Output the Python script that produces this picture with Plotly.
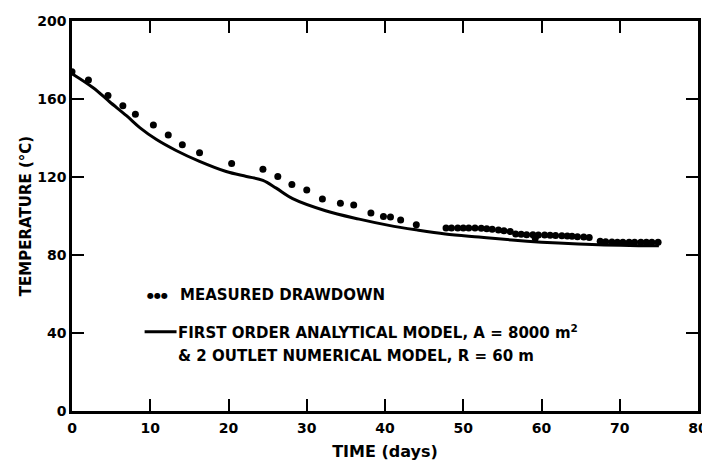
import plotly.graph_objects as go

# Measured drawdown (days, degC)
meas_days = [0, 2.1, 4.6, 6.5, 8.1, 10.4, 12.3, 14.1, 16.3, 20.4, 24.4, 26.3, 28.1,
             30.0, 32.0, 34.3, 36.0, 38.2, 39.8, 40.7, 42.0, 44.0,
             47.8, 48.5, 49.3, 50.0, 50.7, 51.5, 52.3, 53.0, 53.7, 54.5, 55.2, 56.0,
             56.7, 57.4, 58.1, 58.9, 59.2, 59.6, 60.4, 61.1, 61.8, 62.6, 63.3, 63.9,
             64.6, 65.4, 66.1,
             67.5, 68.2, 69.0, 69.7, 70.4, 71.2, 71.9, 72.7, 73.4, 74.1, 74.9]
meas_temp = [174, 169.8, 161.8, 156.6, 152.2, 146.7, 141.6, 136.5, 132.4, 126.9, 124.0, 120.3, 116.2,
             113.3, 108.7, 106.6, 105.6, 101.5, 99.8, 99.5, 97.9, 95.5,
             93.8, 93.9, 93.9, 93.9, 93.8, 93.8, 93.7, 93.5, 93.2, 92.8, 92.4, 92.0,
             90.8, 90.6, 90.4, 90.4, 88.6, 90.3, 90.2, 90.1, 90.0, 89.9, 89.8, 89.6,
             89.4, 89.2, 89.0,
             87.0, 86.8, 86.7, 86.6, 86.5, 86.5, 86.5, 86.5, 86.5, 86.5, 86.5]

# First order analytical model & 2 outlet numerical model
model_days = [0, 2.7, 4.8, 7.0, 8.7, 10.8, 13.3, 16.3, 19.7, 22.3, 24.4, 26.1, 28.2,
              32.4, 36.7, 40.5, 44, 47.7, 52, 56.2, 60, 64.7, 68, 72.4, 75]
model_temp = [173, 165.8, 158.6, 151.3, 145.2, 139.2, 133.6, 128.0, 122.8, 120.3, 118.3, 114.3, 108.9,
              102.7, 98.4, 95.2, 92.9, 90.8, 89.2, 87.7, 86.6, 85.6, 85.1, 84.8, 84.8]

x_ticks = [0, 10, 20, 30, 40, 50, 60, 70, 80]
y_ticks = [0, 40, 80, 120, 160, 200]

FONT = "DejaVu Sans"

fig = go.Figure()
fig.add_trace(go.Scatter(x=model_days, y=model_temp, mode="lines",
                         line=dict(color="black", width=3, shape="spline", smoothing=1.0),
                         name="model", showlegend=False))
fig.add_trace(go.Scatter(x=meas_days, y=meas_temp, mode="markers",
                         marker=dict(color="black", size=7),
                         name="measured", showlegend=False))

axis_common = dict(showgrid=False, zeroline=False, showline=True, linecolor="black",
                   linewidth=2.5, mirror="ticks", ticks="inside", ticklen=12,
                   tickwidth=2, tickcolor="black", automargin=False,
                   ticklabeloverflow="allow",
                   tickfont=dict(family=FONT, size=14, color="black", weight=700))

fig.update_xaxes(range=[0, 80], tickvals=x_ticks, ticktext=[str(v) for v in x_ticks],
                 ticklabelstandoff=2,
                 title=dict(text="TIME (days)", standoff=12,
                            font=dict(family=FONT, size=16, color="black", weight=700)),
                 **axis_common)
fig.update_yaxes(range=[0, 200], tickvals=y_ticks, ticktext=[str(v) for v in y_ticks],
                 title=dict(text="TEMPERATURE (°C)", standoff=2,
                            font=dict(family=FONT, size=15, color="black", weight=700)),
                 **axis_common)

lab_font = dict(family=FONT, size=15, color="black", weight=700)
fig.add_annotation(xref="paper", yref="paper", x=0.117, y=0.297, xanchor="left",
                   yanchor="middle", text="●●●", showarrow=False,
                   font=dict(family=FONT, size=8, color="black"))
fig.add_annotation(xref="paper", yref="paper", x=0.170, y=0.297, xanchor="left",
                   yanchor="middle", text="MEASURED DRAWDOWN", showarrow=False, font=lab_font)
fig.add_shape(type="line", xref="paper", yref="paper", x0=0.116, x1=0.167, y0=0.203, y1=0.203,
              line=dict(color="black", width=3))
fig.add_annotation(xref="paper", yref="paper", x=0.166, y=0.203, xanchor="left",
                   yanchor="middle", text="FIRST ORDER ANALYTICAL MODEL, A = 8000 m<sup>2</sup>",
                   showarrow=False, font=lab_font)
fig.add_annotation(xref="paper", yref="paper", x=0.166, y=0.141, xanchor="left",
                   yanchor="middle", text="&amp; 2 OUTLET NUMERICAL MODEL, R = 60 m",
                   showarrow=False, font=lab_font)

# page body has an 8px default margin: size/margins compensate so the plot
# frame lands where it sits in the 710x468 reference
fig.update_layout(width=702, height=460, margin=dict(l=64, r=12, t=13, b=57),
                  paper_bgcolor="white", plot_bgcolor="white", showlegend=False)

fig.write_html("out.html")
